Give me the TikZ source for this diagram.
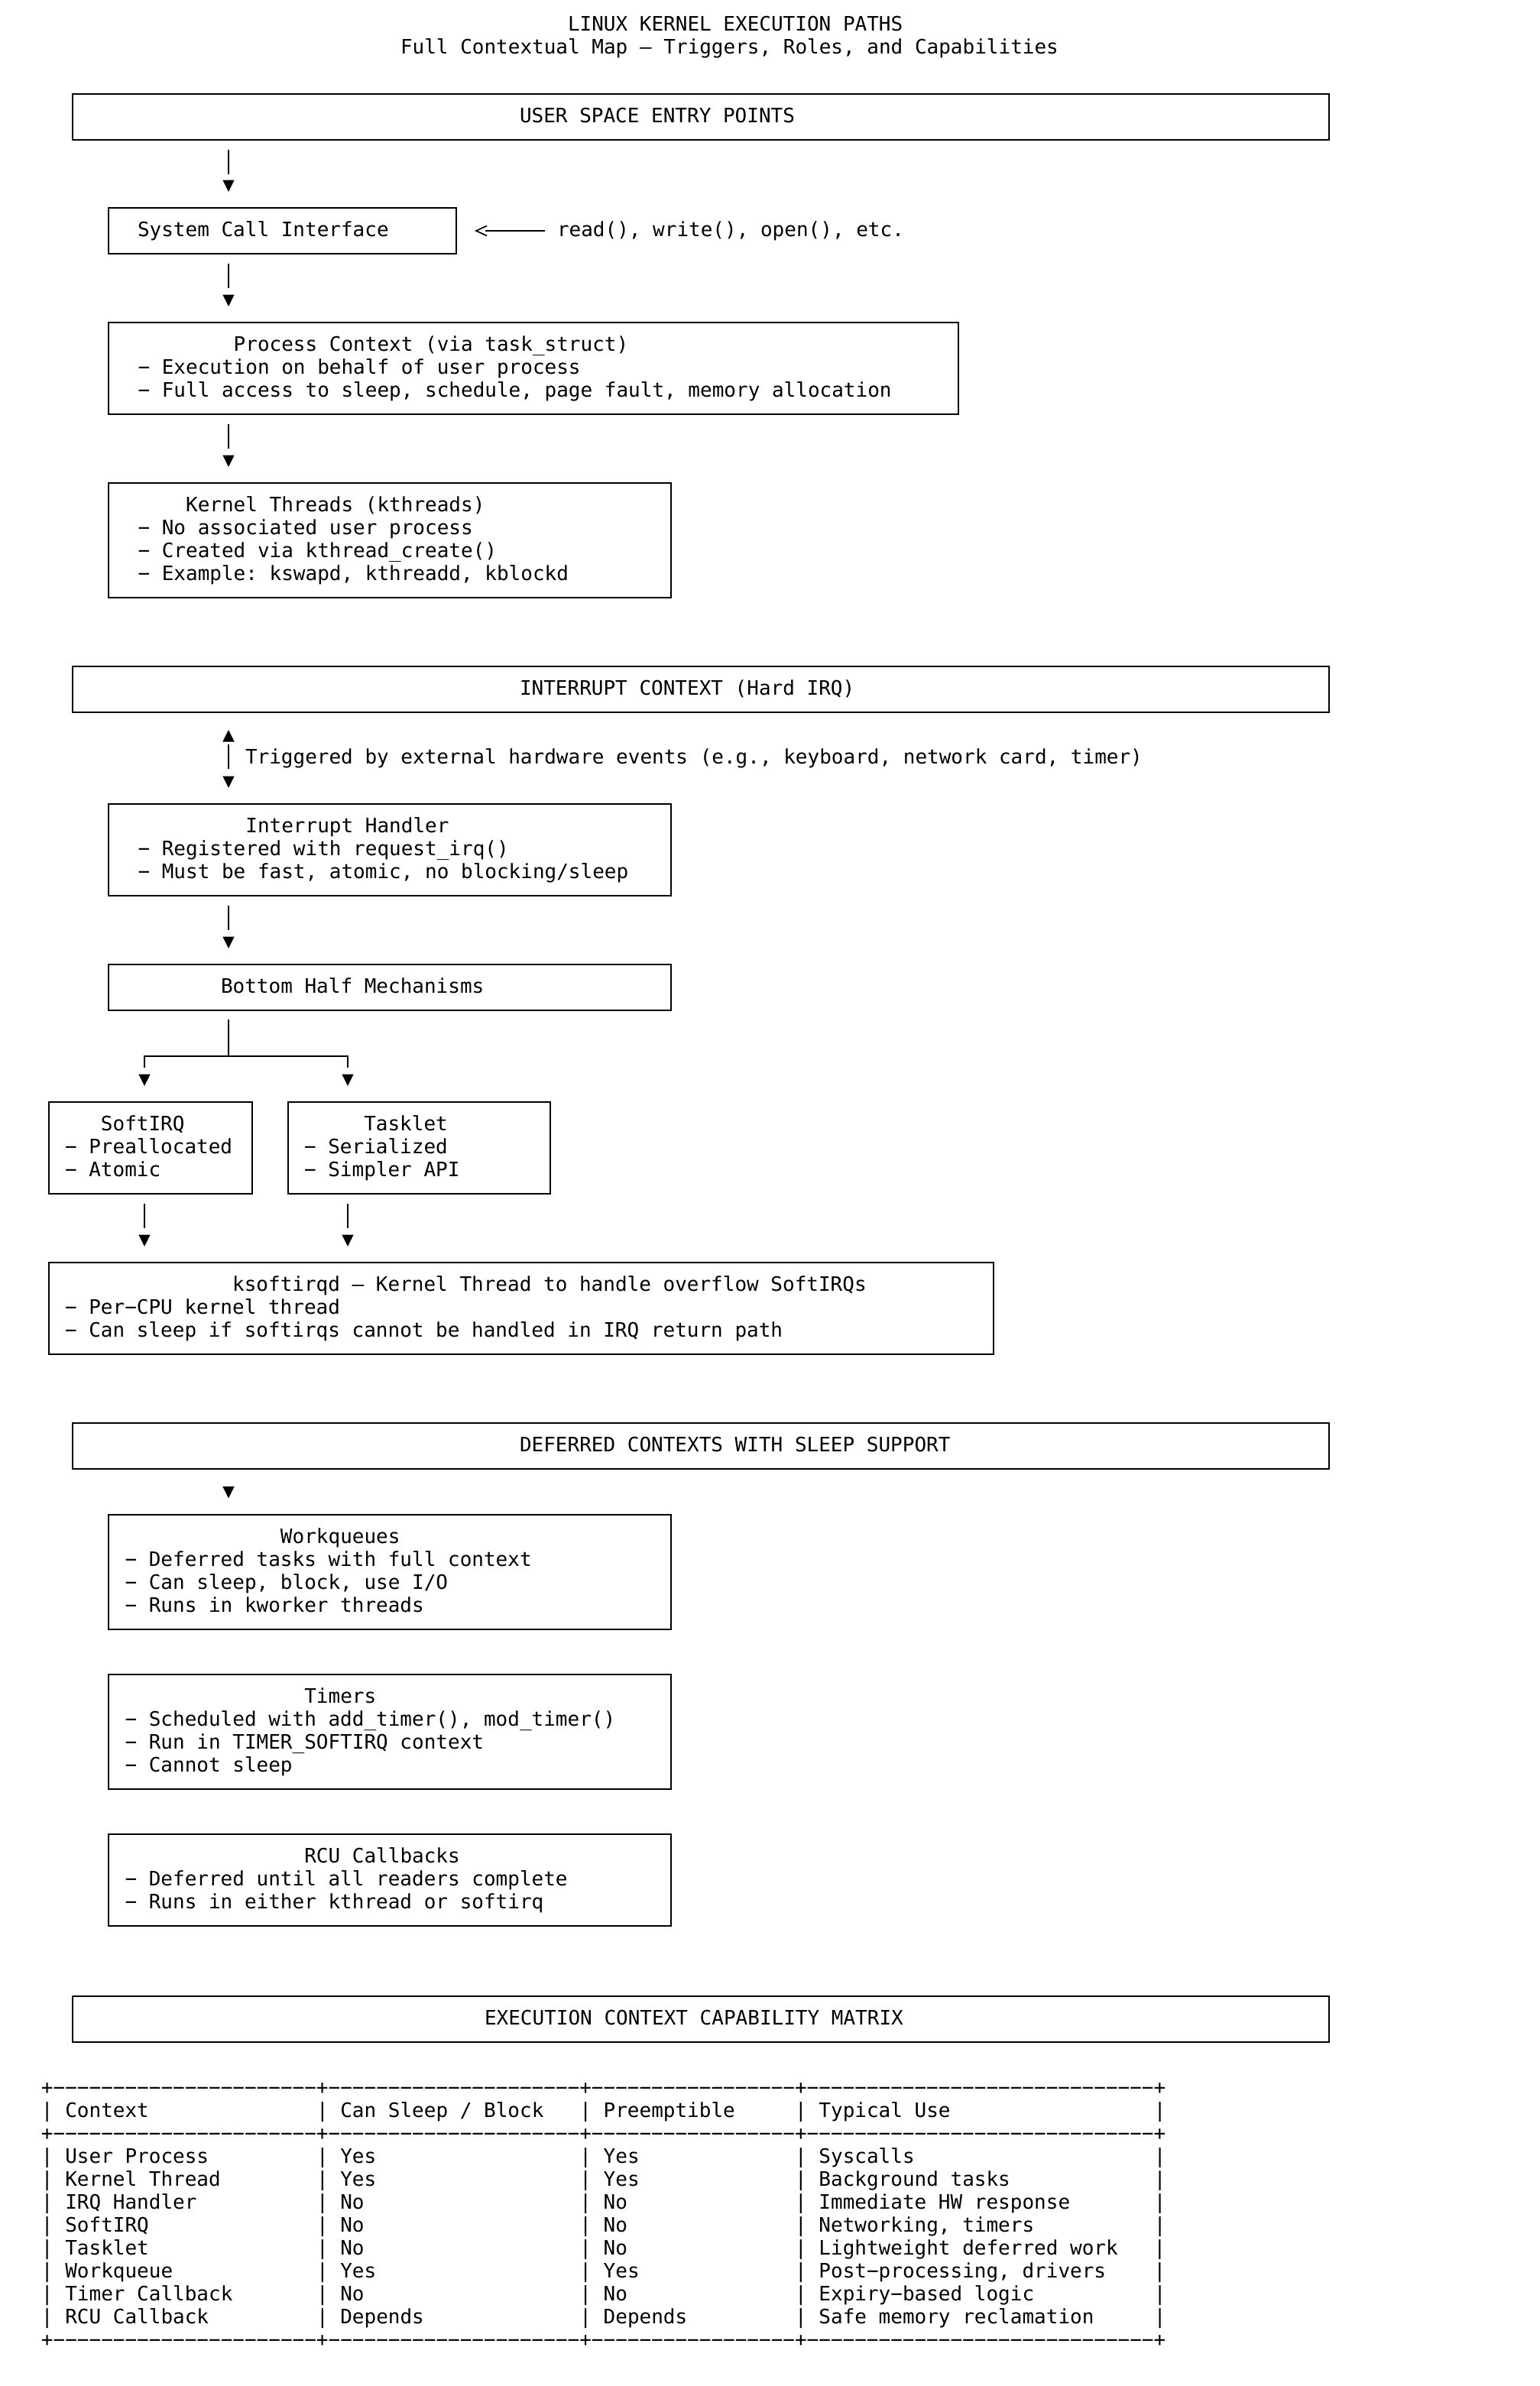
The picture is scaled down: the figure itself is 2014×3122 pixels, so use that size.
\documentclass[tikz,border=0pt]{standalone}
\usepackage{fontspec}
\newfontfamily\dmono{DejaVu Sans Mono}
\usetikzlibrary{arrows.meta,fit}
\frenchspacing
\newlength\cw \setlength\cw{7.8267pt}
\newcount\dashcnt
\newcommand\dashes[1]{\dashcnt=#1\relax\loop\ifnum\dashcnt>0 −\advance\dashcnt by -1\relax\repeat}
\newcommand\tc[2]{\makebox[#1\cw][l]{#2}}
\begin{document}
\frenchspacing
\begin{tikzpicture}[x=0.5pt,y=-0.5pt,
  txt/.style={font=\dmono\fontsize{13pt}{15pt}\selectfont\frenchspacing, inner sep=0pt, outer sep=0pt},
  blk/.style={txt, align=left, anchor=north west},
  box/.style={draw, line width=1.3pt, inner sep=0pt, outer sep=0pt},
  lnk/.style={line width=0.85pt},
  arr/.style={lnk, -{Triangle[length=7.75pt,width=7.5pt]}, shorten <=6.5pt, shorten >=10.5pt, dash pattern=on 16pt off 60pt},
  bidir/.style={lnk, {Triangle[length=7.75pt,width=7.5pt]}-{Triangle[length=7.75pt,width=7.5pt]}, shorten <=11.5pt, shorten >=10.5pt, dash pattern=on 16pt off 6pt, dash phase=20pt},
  branch/.style={lnk, {Triangle[length=7.75pt,width=7.5pt]}-{Triangle[length=7.75pt,width=7.5pt]}, shorten <=10.5pt, shorten >=10.5pt, dash pattern=on 148pt off 4.5pt, dash phase=148pt},
  tiponly/.style={lnk, -{Triangle[length=7.75pt,width=7.5pt]}, shorten <=11.25pt, shorten >=10.75pt},
  harr/.style={lnk, -{Straight Barb[length=7pt,width=6.5pt]}, shorten <=8pt, shorten >=12pt, dash pattern=on 39pt off 30pt}
]
\useasboundingbox (0,0) rectangle (2014,3122);

% titles
\node[txt, anchor=base west] (ttl1) at (743,40) {LINUX KERNEL EXECUTION PATHS};
\node[txt, anchor=base west] (ttl2) at (524,70) {Full Contextual Map — Triggers, Roles, and Capabilities};

% user space section
\node[box, fit={(95,123) (1739,183)}] (user) {};
\node[txt, anchor=base west] (userT) at (680,160.5) {USER SPACE ENTRY POINTS};

\node[box, fit={(142,272) (597,332)}] (sys) {};
\node[txt, anchor=base west] (sysT) at (180,309.5) {System Call Interface};
\node[txt, anchor=base west] (lbl) at (729,309.5) {read(), write(), open(), etc.};

\node[box, fit={(142,422) (1254,542)}] (proc) {};
\node[blk] (procT) at (180.5,438.5) {\strut\hspace*{8\cw}Process Context (via task\_struct)\\− Execution on behalf of user process\\− Full access to sleep, schedule, page fault, memory allocation};

\node[box, fit={(142,632) (878,782)}] (kth) {};
\node[blk] (kthT) at (180.5,648.5) {\strut\hspace*{4\cw}Kernel Threads (kthreads)\\− No associated user process\\− Created via kthread\_create()\\− Example: kswapd, kthreadd, kblockd};

% interrupt section
\node[box, fit={(95,872) (1739,932)}] (irq) {};
\node[txt, anchor=base west] (irqT) at (680,909.5) {INTERRUPT CONTEXT (Hard IRQ)};
\node[txt, anchor=base west] (trig) at (321,999) {Triggered by external hardware events (e.g., keyboard, network card, timer)};

\node[box, fit={(142,1052) (878,1172)}] (hand) {};
\node[blk] (handT) at (180.5,1068.5) {\strut\hspace*{9\cw}Interrupt Handler\\− Registered with request\_irq()\\− Must be fast, atomic, no blocking/sleep};

\node[box, fit={(142,1262) (878,1322)}] (bh) {};
\node[txt, anchor=base west] (bhT) at (289,1299.5) {Bottom Half Mechanisms};

\node[box, fit={(64,1442) (330,1562)}] (soft) {};
\node[blk] (softT) at (85,1458.5) {\strut\hspace*{3\cw}SoftIRQ\\− Preallocated\\− Atomic};

\node[box, fit={(377,1442) (720,1562)}] (task) {};
\node[blk] (taskT) at (398,1458.5) {\strut\hspace*{5\cw}Tasklet\\− Serialized\\− Simpler API};

\node[box, fit={(64,1652) (1300,1772)}] (ksoft) {};
\node[blk] (ksoftT) at (85,1668.5) {\strut\hspace*{14\cw}ksoftirqd — Kernel Thread to handle overflow SoftIRQs\\− Per−CPU kernel thread\\− Can sleep if softirqs cannot be handled in IRQ return path};

% deferred section
\node[box, fit={(95,1862) (1739,1922)}] (def) {};
\node[txt, anchor=base west] (defT) at (680,1899.5) {DEFERRED CONTEXTS WITH SLEEP SUPPORT};

\node[box, fit={(142,1982) (878,2132)}] (wq) {};
\node[blk] (wqT) at (163.5,1998.5) {\strut\hspace*{13\cw}Workqueues\\− Deferred tasks with full context\\− Can sleep, block, use I/O\\− Runs in kworker threads};

\node[box, fit={(142,2191) (878,2341)}] (tim) {};
\node[blk] (timT) at (163.5,2207.5) {\strut\hspace*{15\cw}Timers\\− Scheduled with add\_timer(), mod\_timer()\\− Run in TIMER\_SOFTIRQ context\\− Cannot sleep};

\node[box, fit={(142,2400) (878,2520)}] (rcu) {};
\node[blk] (rcuT) at (163.5,2416.5) {\strut\hspace*{15\cw}RCU Callbacks\\− Deferred until all readers complete\\− Runs in either kthread or softirq};

% matrix section
\node[box, fit={(95,2612) (1739,2672)}] (mat) {};
\node[txt, anchor=base west] (matT) at (634,2649.5) {EXECUTION CONTEXT CAPABILITY MATRIX};

\node[blk] (table) at (54,2719) {\strut+\dashes{22}+\dashes{21}+\dashes{17}+\dashes{29}+\\
\tc{23}{| Context}\tc{22}{| Can Sleep / Block}\tc{18}{| Preemptible}\tc{30}{| Typical Use}|\\
+\dashes{22}+\dashes{21}+\dashes{17}+\dashes{29}+\\
\tc{23}{| User Process}\tc{22}{| Yes}\tc{18}{| Yes}\tc{30}{| Syscalls}|\\
\tc{23}{| Kernel Thread}\tc{22}{| Yes}\tc{18}{| Yes}\tc{30}{| Background tasks}|\\
\tc{23}{| IRQ Handler}\tc{22}{| No}\tc{18}{| No}\tc{30}{| Immediate HW response}|\\
\tc{23}{| SoftIRQ}\tc{22}{| No}\tc{18}{| No}\tc{30}{| Networking, timers}|\\
\tc{23}{| Tasklet}\tc{22}{| No}\tc{18}{| No}\tc{30}{| Lightweight deferred work}|\\
\tc{23}{| Workqueue}\tc{22}{| Yes}\tc{18}{| Yes}\tc{30}{| Post−processing, drivers}|\\
\tc{23}{| Timer Callback}\tc{22}{| No}\tc{18}{| No}\tc{30}{| Expiry−based logic}|\\
\tc{23}{| RCU Callback}\tc{22}{| Depends}\tc{18}{| Depends}\tc{30}{| Safe memory reclamation}|\\
+\dashes{22}+\dashes{21}+\dashes{17}+\dashes{29}+};

% connectors
\coordinate (colx) at (299,0);
\coordinate (split) at (299,1382);
\coordinate (bl) at (189,1382);
\coordinate (br) at (455,1382);

\draw[arr] (user.south -| colx) -- (sys.north -| colx);
\draw[harr] (lbl.west |- sys.east) -- (sys.east);
\draw[arr] (sys.south -| colx) -- (proc.north -| colx);
\draw[arr] (proc.south -| colx) -- (kth.north -| colx);
\draw[bidir] (irq.south -| colx) -- (hand.north -| colx);
\draw[arr] (hand.south -| colx) -- (bh.north -| colx);
\draw[lnk, shorten <=6pt] (bh.south -| split) -- (split);
\draw[branch] (bl |- soft.north) -- (bl) -- (br) -- (br |- task.north);
\draw[arr] (soft.south -| bl) -- (ksoft.north -| bl);
\draw[arr] (task.south -| br) -- (ksoft.north -| br);
\draw[tiponly] (def.south -| colx) -- (wq.north -| colx);
\end{tikzpicture}
\end{document}
